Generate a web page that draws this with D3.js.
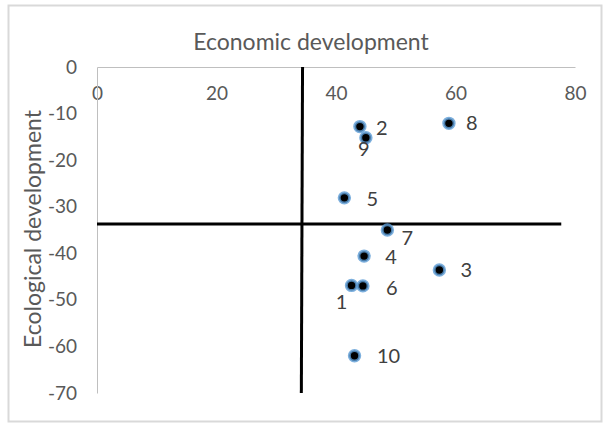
<!DOCTYPE html>
<html>
<head>
<meta charset="utf-8">
<script src="https://cdnjs.cloudflare.com/ajax/libs/d3/7.8.5/d3.min.js"></script>
<style>
  body { margin: 0; background: #fff; }
  text { font-family: Lato, "Open Sans", sans-serif; }
</style>
</head>
<body>
<svg id="chart" width="606" height="425"></svg>
<script>
// data
var ids  = ["1", "2", "3", "4", "5", "6", "7", "8", "9", "10"];
var econ = [42.6, 44.0, 57.3, 44.7, 41.4, 44.5, 48.6, 58.9, 45.0, 43.1];
var ecol = [-46.9, -12.8, -43.6, -40.6, -28.1, -47.0, -35.0, -12.1, -15.2, -62.0];
// where each label sits relative to its point (dx, dy in px)
var labelDx = [-10, 22, 27, 27, 28, 29, 20, 23, -2, 34];
var labelDy = [17, 1, 0, 1, 1, 2, 8, 0, 11, 0];

var xTicks = [0, 20, 40, 60, 80];
var yTicks = [0, -10, -20, -30, -40, -50, -60, -70];

// quadrant dividers
var vLine = [{x: 34.4, y: 0}, {x: 34.2, y: -70}];
var hLine = [{x: 0, y: -33.7}, {x: 77.7, y: -33.7}];

var svg = d3.select("#chart");

svg.append("rect")
  .attr("x", 8.5).attr("y", 5.5)
  .attr("width", 593).attr("height", 416)
  .style("fill", "#fff").style("stroke", "#d9d9d9").style("stroke-width", 2);

var x = d3.scaleLinear().domain([0, 80]).range([97, 575]);
var y = d3.scaleLinear().domain([0, -70]).range([67, 393]);

// plain hyphen for negatives, like the original
var fmt = function(d) { return String(d); };

// x axis along the top, labels pushed down
var xAxis = svg.append("g")
  .attr("transform", "translate(0," + y(0) + ")")
  .call(d3.axisBottom(x).tickValues(xTicks).tickFormat(fmt).tickSize(0).tickPadding(20));
xAxis.select(".domain").style("stroke", "#bfbfbf");
xAxis.selectAll("text").style("font-size", "19px").style("fill", "#595959")
  .style("font-family", "Lato, sans-serif");

var yAxis = svg.append("g")
  .attr("transform", "translate(" + x(0) + ",0)")
  .call(d3.axisLeft(y).tickValues(yTicks).tickFormat(fmt).tickSize(0).tickPadding(20));
yAxis.select(".domain").style("stroke", "#bfbfbf");
yAxis.selectAll("text").style("font-size", "19px").style("fill", "#595959")
  .style("font-family", "Lato, sans-serif");

svg.append("text")
  .attr("x", 311).attr("y", 50)
  .attr("text-anchor", "middle")
  .style("font-size", "23px").style("fill", "#595959")
  .text("Economic development");

svg.append("text")
  .attr("transform", "translate(41,229) rotate(-90)")
  .attr("text-anchor", "middle")
  .style("font-size", "23px").style("fill", "#595959")
  .text("Ecological development");

var line = d3.line().x(function(d) { return x(d.x); }).y(function(d) { return y(d.y); });
[vLine, hLine].forEach(function(l) {
  svg.append("path")
    .attr("d", line(l))
    .style("fill", "none").style("stroke", "#000").style("stroke-width", 3);
});

var pts = ids.map(function(id, i) { return {id: id, x: econ[i], y: ecol[i], dx: labelDx[i], dy: labelDy[i]}; });

svg.selectAll("circle.pt").data(pts).enter().append("circle")
  .attr("class", "pt")
  .attr("cx", function(d) { return x(d.x); })
  .attr("cy", function(d) { return y(d.y); })
  .attr("r", 5.2)
  .style("fill", "#000")
  .style("stroke", "#5b9bd5")
  .style("stroke-opacity", 0.8)
  .style("stroke-width", 3);

svg.selectAll("text.lbl").data(pts).enter().append("text")
  .attr("class", "lbl")
  .attr("x", function(d) { return x(d.x) + d.dx; })
  .attr("y", function(d) { return y(d.y) + d.dy; })
  .attr("text-anchor", "middle")
  .attr("dy", "0.35em")
  .style("font-size", "20px").style("fill", "#404040")
  .text(function(d) { return d.id; });
</script>
</body>
</html>
